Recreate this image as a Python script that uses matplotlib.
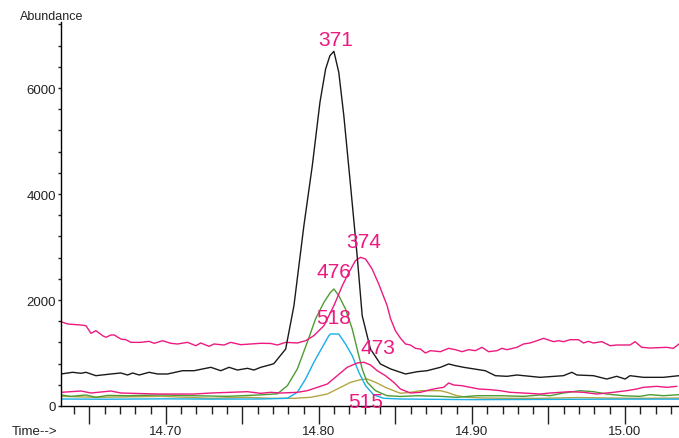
import matplotlib.pyplot as plt
from matplotlib.ticker import MultipleLocator, FixedLocator

plt.rcParams['font.family'] = ['Liberation Sans', 'DejaVu Sans']

# ion 371 (black)
t371 = [14.6315, 14.6391, 14.6446, 14.6478, 14.6543, 14.6641, 14.6706, 14.6750, 14.6783, 14.6826,
        14.6891, 14.6946, 14.7011, 14.7109, 14.7185, 14.7239, 14.7294, 14.7359, 14.7413, 14.7468,
        14.7533, 14.7576, 14.7620, 14.7685, 14.7706, 14.7783, 14.7837, 14.7902, 14.7957, 14.8007,
        14.8044, 14.8072, 14.8098, 14.8130, 14.8163, 14.8207, 14.8250, 14.8283, 14.8337, 14.8402,
        14.8468, 14.8533, 14.8566, 14.8642, 14.8707, 14.8794, 14.8848, 14.8892, 14.8946, 14.9087,
        14.9153, 14.9229, 14.9294, 14.9446, 14.9598, 14.9653, 14.9686, 14.9794, 14.9881, 14.9946,
        15.0001, 15.0033, 15.0120, 15.0251, 15.0353]
a371 = [604, 636, 617, 636, 572, 604, 623, 585, 623, 585,
        636, 604, 604, 666, 666, 698, 730, 666, 730, 679,
        711, 679, 730, 780, 800, 1075, 1893, 3402, 4535, 5731,
        6359, 6610, 6693, 6297, 5478, 4157, 2836, 1704, 1075, 793,
        700, 636, 604, 647, 666, 730, 793, 761, 730, 666,
        572, 560, 585, 541, 572, 636, 585, 572, 509, 560,
        509, 572, 541, 541, 572]

# ion 374 (magenta, upper)
t374 = [14.6315, 14.6359, 14.6446, 14.6478, 14.6511, 14.6543, 14.6587, 14.6609, 14.6641, 14.6663,
        14.6706, 14.6739, 14.6772, 14.6837, 14.6891, 14.6924, 14.6978, 14.7033, 14.7076, 14.7142,
        14.7196, 14.7228, 14.7282, 14.7315, 14.7380, 14.7424, 14.7489, 14.7554, 14.7620, 14.7685,
        14.7729, 14.7783, 14.7859, 14.7913, 14.7967, 14.8033, 14.8098, 14.8153, 14.8196, 14.8239,
        14.8272, 14.8305, 14.8348, 14.8391, 14.8446, 14.8468, 14.8500, 14.8533, 14.8566, 14.8598,
        14.8631, 14.8663, 14.8696, 14.8729, 14.8794, 14.8848, 14.8892, 14.8935, 14.8979, 14.9022,
        14.9066, 14.9109, 14.9164, 14.9196, 14.9229, 14.9294, 14.9337, 14.9381, 14.9425, 14.9468,
        14.9533, 14.9566, 14.9598, 14.9642, 14.9696, 14.9729, 14.9761, 14.9794, 14.9849, 14.9903,
        14.9946, 15.0033, 15.0066, 15.0109, 15.0164, 15.0273, 15.0316, 15.0353]
a374 = [1591, 1547, 1528, 1515, 1371, 1421, 1327, 1296, 1340, 1340,
        1264, 1251, 1201, 1201, 1220, 1183, 1232, 1183, 1170, 1201,
        1138, 1189, 1126, 1170, 1151, 1201, 1157, 1170, 1183, 1180,
        1151, 1201, 1189, 1232, 1327, 1515, 1893, 2270, 2522, 2742,
        2805, 2774, 2585, 2302, 1893, 1650, 1420, 1280, 1170, 1151,
        1088, 1075, 1000, 1044, 1025, 1088, 1063, 1025, 1063, 1044,
        1107, 1025, 1044, 1088, 1063, 1107, 1170, 1190, 1232, 1277,
        1214, 1232, 1214, 1251, 1251, 1189, 1220, 1189, 1214, 1138,
        1151, 1151, 1214, 1107, 1094, 1107, 1088, 1170]

# ion 476 (green)
t476 = [14.6315, 14.6380, 14.6478, 14.6543, 14.6620, 14.6750, 14.6970, 14.7185, 14.7400, 14.7620,
        14.7729, 14.7794, 14.7859, 14.7924, 14.7978, 14.8033, 14.8076, 14.8098, 14.8130, 14.8174,
        14.8218, 14.8250, 14.8283, 14.8316, 14.8370, 14.8446, 14.8533, 14.8642, 14.8794, 14.8903,
        14.9033, 14.9185, 14.9337, 14.9446, 14.9511, 14.9598, 14.9707, 14.9794, 14.9881, 14.9990,
        15.0099, 15.0164, 15.0251, 15.0353]
a476 = [208, 182, 208, 164, 200, 194, 208, 194, 182, 210,
        230, 383, 698, 1201, 1642, 1957, 2145, 2208, 2082, 1830,
        1453, 1075, 698, 447, 289, 194, 180, 194, 182, 164,
        194, 194, 182, 208, 194, 245, 289, 270, 226, 194,
        182, 214, 194, 214]

# ion 518 (cyan)
t518 = [14.6315, 14.6600, 14.7000, 14.7300, 14.7620, 14.7794, 14.7859, 14.7913, 14.7967, 14.8022,
        14.8065, 14.8076, 14.8130, 14.8174, 14.8218, 14.8261, 14.8305, 14.8359, 14.8424, 14.8533,
        14.9000, 14.9500, 15.0000, 15.0353]
a518 = [132, 128, 135, 130, 132, 145, 258, 509, 825, 1107,
        1327, 1359, 1359, 1170, 949, 636, 383, 208, 145, 132,
        120, 125, 130, 130]

# ion 473 (magenta, lower)
t473 = [14.6315, 14.6446, 14.6511, 14.6641, 14.6706, 14.6946, 14.7185, 14.7294, 14.7533, 14.7620,
        14.7685, 14.7750, 14.7859, 14.7924, 14.7990, 14.8055, 14.8120, 14.8185, 14.8250, 14.8294,
        14.8337, 14.8381, 14.8435, 14.8489, 14.8533, 14.8598, 14.8663, 14.8729, 14.8772, 14.8815,
        14.8848, 14.8881, 14.8935, 14.8990, 14.9044, 14.9120, 14.9185, 14.9250, 14.9337, 14.9446,
        14.9511, 14.9642, 14.9729, 14.9816, 14.9924, 15.0012, 15.0077, 15.0120, 15.0207, 15.0273,
        15.0338]
a473 = [258, 283, 245, 283, 245, 226, 226, 245, 270, 239,
        258, 245, 258, 289, 352, 415, 572, 730, 811, 825,
        774, 666, 572, 447, 320, 245, 258, 308, 333, 352,
        434, 396, 383, 352, 321, 308, 289, 258, 245, 226,
        245, 270, 258, 226, 258, 289, 321, 352, 371, 352,
        371]

# ion 515 (olive)
t515 = [14.6315, 14.6543, 14.6978, 14.7294, 14.7533, 14.7685, 14.7837, 14.7946, 14.8055, 14.8142,
        14.8207, 14.8272, 14.8316, 14.8370, 14.8435, 14.8489, 14.8533, 14.8598, 14.8663, 14.8729,
        14.8794, 14.8837, 14.8903, 14.8968, 14.9076, 14.9229, 14.9446, 14.9700, 14.9900, 15.0100,
        15.0353]
a515 = [182, 164, 182, 145, 164, 145, 145, 164, 226, 352,
        447, 497, 509, 447, 352, 289, 240, 258, 289, 289,
        289, 258, 194, 164, 151, 145, 145, 160, 150, 145,
        150]

labels = ['371', '374', '476', '518', '473', '515']
label_t = [14.8109, 14.8292, 14.8096, 14.8096, 14.8389, 14.8305]
label_a = [6925, 3095, 2529, 1661, 1113, 94]

pink = '#EC1A80'

fig = plt.figure(figsize=(6.79, 4.39), dpi=100)
ax = fig.add_axes([61 / 679, 1 - 407 / 439, 1 - 61 / 679, (407 - 23) / 439])

ax.plot(t515, a515, color='#B3A645', lw=1.0)
ax.plot(t518, a518, color='#1AADE8', lw=1.0)
ax.plot(t476, a476, color='#4E9B35', lw=1.0)
ax.plot(t473, a473, color=pink, lw=1.0)
ax.plot(t374, a374, color=pink, lw=1.0)
ax.plot(t371, a371, color='#1A1A1A', lw=1.0)

for s, x, y in zip(labels, label_t, label_a):
    ax.text(x, y, s, color=pink, fontsize=15, ha='center', va='center')

ax.set_xlim(14.6315, 15.0353)
ax.set_ylim(0, 7246)

for side in ['top', 'right']:
    ax.spines[side].set_visible(False)
ax.spines['left'].set_linewidth(1.0)
ax.spines['bottom'].set_linewidth(1.0)

ax.xaxis.set_major_locator(FixedLocator([14.65, 14.70, 14.75, 14.80, 14.85, 14.90, 14.95, 15.00]))
ax.xaxis.set_major_formatter(plt.FuncFormatter(
    lambda v, p: f'{v:.2f}' if abs(round(v * 10) - v * 10) < 1e-6 else ''))
ax.xaxis.set_minor_locator(MultipleLocator(0.01))
ax.tick_params(axis='x', which='major', direction='out', length=13, width=1.0,
               labelsize=9.5, pad=1, colors='#222222')
ax.tick_params(axis='x', which='minor', direction='out', length=6, width=1.0, colors='#222222')

ax.yaxis.set_major_locator(MultipleLocator(2000))
ax.yaxis.set_minor_locator(MultipleLocator(400))
ax.tick_params(axis='y', which='major', direction='out', length=2.5, width=1.0,
               labelsize=9.5, pad=1, colors='#222222')
ax.tick_params(axis='y', which='minor', direction='out', length=2.5, width=1.0, colors='#222222')

fig.text(52 / 679, 1 - 17 / 439, 'Abundance', fontsize=9, ha='center', va='center', color='#222222')
fig.text(35 / 679, 1 - 432 / 439, 'Time-->', fontsize=9.5, ha='center', va='center', color='#222222')

fig.savefig('out.png', dpi=100)
